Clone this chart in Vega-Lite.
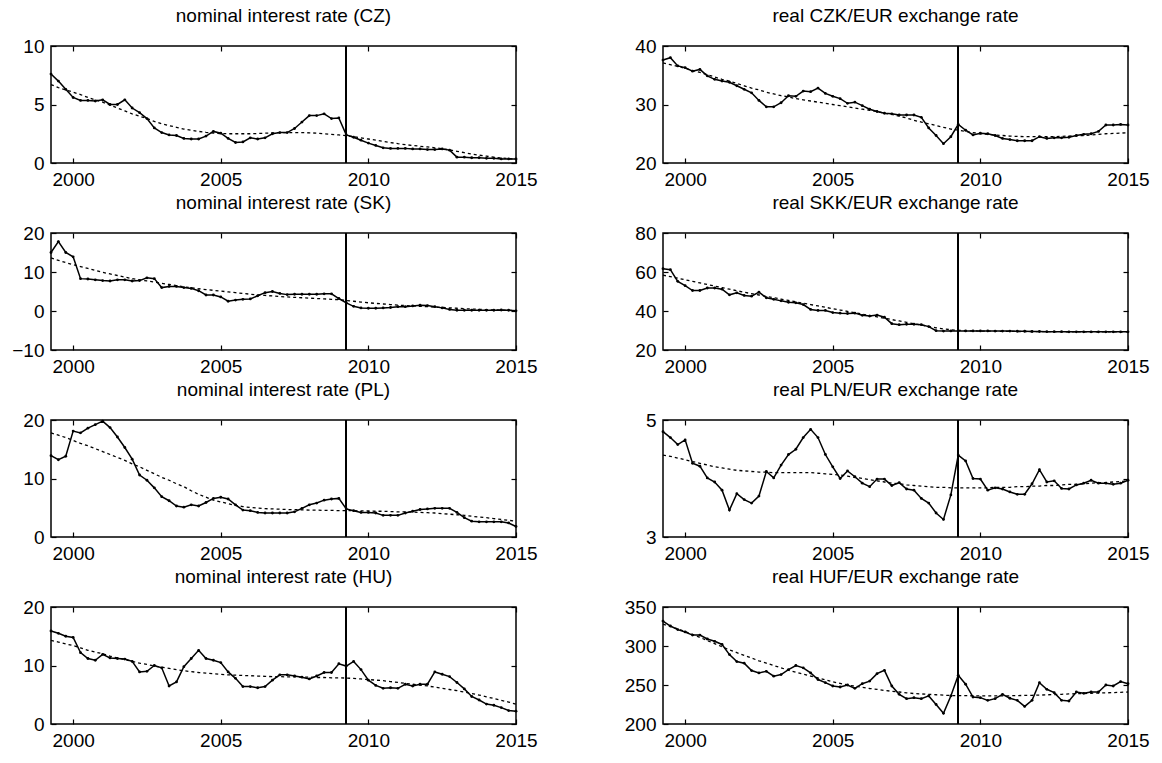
{
  "$schema": "https://vega.github.io/schema/vega-lite/v6.json",
  "background": "white",
  "padding": {"left": 11, "top": 6, "right": 5, "bottom": 5},
  "columns": 2,
  "spacing": {"row": 70, "column": 147},
  "bounds": "flush",
  "data": {"values": [
    {"t":1999.25,"cz":7.6,"czT":6.7,"sk":15.0,"skT":13.6,"pl":13.9,"plT":17.8,"hu":15.9,"huT":14.3,"czk":37.6,"czkT":37.1,"skk":61.7,"skkT":58.4,"pln":4.80,"plnT":4.40,"huf":332,"hufT":328},
    {"t":1999.5,"cz":7.0,"czT":6.45,"sk":17.8,"skT":13.0,"pl":13.2,"plT":17.4,"hu":15.5,"huT":14.0,"czk":38.0,"czkT":36.8,"skk":61.2,"skkT":57.6,"pln":4.70,"plnT":4.38,"huf":325.6,"hufT":325},
    {"t":1999.75,"cz":6.3,"czT":6.25,"sk":15.0,"skT":12.4,"pl":13.8,"plT":17.0,"hu":15.0,"huT":13.7,"czk":36.6,"czkT":36.5,"skk":55.2,"skkT":56.8,"pln":4.58,"plnT":4.35,"huf":321,"hufT":322},
    {"t":2000,"cz":5.6,"czT":6.05,"sk":13.9,"skT":11.9,"pl":18.1,"plT":16.5,"hu":14.8,"huT":13.4,"czk":36.3,"czkT":36.2,"skk":53.0,"skkT":56.0,"pln":4.66,"plnT":4.32,"huf":318,"hufT":318.5},
    {"t":2000.25,"cz":5.35,"czT":5.85,"sk":8.3,"skT":11.4,"pl":17.8,"plT":16.0,"hu":12.2,"huT":13.0,"czk":35.7,"czkT":35.8,"skk":50.5,"skkT":55.2,"pln":4.26,"plnT":4.29,"huf":314,"hufT":315},
    {"t":2000.5,"cz":5.35,"czT":5.6,"sk":8.2,"skT":10.9,"pl":18.6,"plT":15.6,"hu":11.2,"huT":12.6,"czk":36.0,"czkT":35.5,"skk":50.5,"skkT":54.4,"pln":4.21,"plnT":4.26,"huf":314,"hufT":311},
    {"t":2000.75,"cz":5.3,"czT":5.4,"sk":8.0,"skT":10.4,"pl":19.2,"plT":15.1,"hu":10.9,"huT":12.3,"czk":34.9,"czkT":35.1,"skk":51.8,"skkT":53.6,"pln":4.01,"plnT":4.23,"huf":309,"hufT":307},
    {"t":2001,"cz":5.4,"czT":5.2,"sk":7.8,"skT":9.9,"pl":19.8,"plT":14.6,"hu":11.9,"huT":12.0,"czk":34.3,"czkT":34.7,"skk":51.8,"skkT":52.8,"pln":3.94,"plnT":4.20,"huf":306,"hufT":303},
    {"t":2001.25,"cz":5.0,"czT":4.95,"sk":7.7,"skT":9.5,"pl":18.7,"plT":14.1,"hu":11.3,"huT":11.6,"czk":34.0,"czkT":34.3,"skk":51.2,"skkT":52.0,"pln":3.80,"plnT":4.18,"huf":302,"hufT":299},
    {"t":2001.5,"cz":5.0,"czT":4.7,"sk":8.0,"skT":9.1,"pl":17.1,"plT":13.6,"hu":11.2,"huT":11.3,"czk":33.8,"czkT":34.0,"skk":48.3,"skkT":51.2,"pln":3.46,"plnT":4.16,"huf":289,"hufT":295},
    {"t":2001.75,"cz":5.4,"czT":4.45,"sk":8.0,"skT":8.7,"pl":15.3,"plT":13.1,"hu":11.1,"huT":11.0,"czk":33.2,"czkT":33.6,"skk":49.3,"skkT":50.4,"pln":3.74,"plnT":4.14,"huf":280,"hufT":291.5},
    {"t":2002,"cz":4.7,"czT":4.2,"sk":7.7,"skT":8.3,"pl":13.3,"plT":12.5,"hu":10.7,"huT":10.7,"czk":32.6,"czkT":33.2,"skk":48.0,"skkT":49.6,"pln":3.64,"plnT":4.13,"huf":278,"hufT":288},
    {"t":2002.25,"cz":4.3,"czT":4.0,"sk":7.8,"skT":8.0,"pl":10.6,"plT":12.0,"hu":8.9,"huT":10.4,"czk":32.0,"czkT":32.8,"skk":47.6,"skkT":48.9,"pln":3.58,"plnT":4.12,"huf":268.5,"hufT":284.5},
    {"t":2002.5,"cz":3.8,"czT":3.8,"sk":8.5,"skT":7.7,"pl":9.7,"plT":11.4,"hu":9.0,"huT":10.2,"czk":30.7,"czkT":32.5,"skk":49.7,"skkT":48.2,"pln":3.70,"plnT":4.11,"huf":265.5,"hufT":281},
    {"t":2002.75,"cz":3.0,"czT":3.55,"sk":8.3,"skT":7.4,"pl":8.4,"plT":10.8,"hu":10.0,"huT":9.9,"czk":29.6,"czkT":32.1,"skk":46.8,"skkT":47.5,"pln":4.12,"plnT":4.11,"huf":267.5,"hufT":278},
    {"t":2003,"cz":2.6,"czT":3.35,"sk":6.0,"skT":7.1,"pl":6.9,"plT":10.2,"hu":9.6,"huT":9.7,"czk":29.6,"czkT":31.8,"skk":46.0,"skkT":46.8,"pln":4.01,"plnT":4.10,"huf":261.3,"hufT":275},
    {"t":2003.25,"cz":2.4,"czT":3.2,"sk":6.3,"skT":6.8,"pl":6.2,"plT":9.7,"hu":6.5,"huT":9.5,"czk":30.3,"czkT":31.5,"skk":45.2,"skkT":46.1,"pln":4.23,"plnT":4.10,"huf":263.4,"hufT":272},
    {"t":2003.5,"cz":2.35,"czT":3.05,"sk":6.3,"skT":6.5,"pl":5.3,"plT":9.1,"hu":7.2,"huT":9.3,"czk":31.5,"czkT":31.3,"skk":44.5,"skkT":45.4,"pln":4.41,"plnT":4.10,"huf":269.8,"hufT":269},
    {"t":2003.75,"cz":2.1,"czT":2.9,"sk":6.0,"skT":6.2,"pl":5.1,"plT":8.6,"hu":9.8,"huT":9.1,"czk":31.4,"czkT":31.0,"skk":44.2,"skkT":44.7,"pln":4.50,"plnT":4.10,"huf":275,"hufT":266.5},
    {"t":2004,"cz":2.05,"czT":2.8,"sk":5.8,"skT":5.95,"pl":5.5,"plT":7.9,"hu":11.2,"huT":8.95,"czk":32.3,"czkT":30.8,"skk":43.3,"skkT":44.0,"pln":4.70,"plnT":4.10,"huf":272,"hufT":264},
    {"t":2004.25,"cz":2.05,"czT":2.7,"sk":5.2,"skT":5.7,"pl":5.3,"plT":7.3,"hu":12.6,"huT":8.8,"czk":32.2,"czkT":30.6,"skk":40.8,"skkT":43.3,"pln":4.84,"plnT":4.10,"huf":265.5,"hufT":261.5},
    {"t":2004.5,"cz":2.3,"czT":2.62,"sk":4.1,"skT":5.5,"pl":5.9,"plT":6.8,"hu":11.2,"huT":8.7,"czk":32.8,"czkT":30.4,"skk":40.3,"skkT":42.6,"pln":4.70,"plnT":4.09,"huf":257,"hufT":259},
    {"t":2004.75,"cz":2.7,"czT":2.56,"sk":4.1,"skT":5.3,"pl":6.6,"plT":6.3,"hu":10.9,"huT":8.6,"czk":31.9,"czkT":30.2,"skk":40.3,"skkT":41.9,"pln":4.41,"plnT":4.08,"huf":253,"hufT":256.5},
    {"t":2005,"cz":2.55,"czT":2.52,"sk":3.6,"skT":5.1,"pl":6.8,"plT":6.0,"hu":10.5,"huT":8.5,"czk":31.4,"czkT":30.0,"skk":39.2,"skkT":41.2,"pln":4.20,"plnT":4.07,"huf":248.7,"hufT":254},
    {"t":2005.25,"cz":2.1,"czT":2.5,"sk":2.5,"skT":4.9,"pl":6.5,"plT":5.7,"hu":8.9,"huT":8.4,"czk":31.0,"czkT":29.8,"skk":38.9,"skkT":40.5,"pln":4.00,"plnT":4.06,"huf":247.4,"hufT":252},
    {"t":2005.5,"cz":1.75,"czT":2.5,"sk":2.8,"skT":4.7,"pl":5.5,"plT":5.4,"hu":7.8,"huT":8.35,"czk":30.2,"czkT":29.6,"skk":38.7,"skkT":39.8,"pln":4.13,"plnT":4.04,"huf":250,"hufT":250},
    {"t":2005.75,"cz":1.8,"czT":2.5,"sk":3.0,"skT":4.5,"pl":4.6,"plT":5.2,"hu":6.4,"huT":8.3,"czk":30.4,"czkT":29.4,"skk":38.9,"skkT":39.1,"pln":4.03,"plnT":4.02,"huf":245.7,"hufT":248.5},
    {"t":2006,"cz":2.15,"czT":2.5,"sk":3.1,"skT":4.3,"pl":4.5,"plT":5.05,"hu":6.4,"huT":8.25,"czk":29.8,"czkT":29.2,"skk":37.8,"skkT":38.4,"pln":3.92,"plnT":4.00,"huf":251.7,"hufT":247},
    {"t":2006.25,"cz":2.05,"czT":2.52,"sk":3.9,"skT":4.15,"pl":4.2,"plT":4.95,"hu":6.2,"huT":8.2,"czk":29.2,"czkT":29.0,"skk":37.4,"skkT":37.7,"pln":3.86,"plnT":3.98,"huf":255,"hufT":245.5},
    {"t":2006.5,"cz":2.15,"czT":2.55,"sk":4.7,"skT":4.0,"pl":4.1,"plT":4.85,"hu":6.4,"huT":8.15,"czk":28.8,"czkT":28.8,"skk":37.9,"skkT":37.0,"pln":3.99,"plnT":3.96,"huf":264.5,"hufT":244.5},
    {"t":2006.75,"cz":2.5,"czT":2.57,"sk":5.0,"skT":3.85,"pl":4.1,"plT":4.8,"hu":7.5,"huT":8.1,"czk":28.5,"czkT":28.5,"skk":36.8,"skkT":36.3,"pln":3.99,"plnT":3.94,"huf":268.8,"hufT":243},
    {"t":2007,"cz":2.6,"czT":2.6,"sk":4.5,"skT":3.7,"pl":4.1,"plT":4.75,"hu":8.4,"huT":8.1,"czk":28.4,"czkT":28.3,"skk":33.5,"skkT":35.6,"pln":3.88,"plnT":3.92,"huf":248.7,"hufT":242},
    {"t":2007.25,"cz":2.6,"czT":2.6,"sk":4.2,"skT":3.6,"pl":4.1,"plT":4.7,"hu":8.4,"huT":8.05,"czk":28.2,"czkT":28.0,"skk":33.0,"skkT":34.9,"pln":3.93,"plnT":3.91,"huf":238,"hufT":241},
    {"t":2007.5,"cz":2.95,"czT":2.6,"sk":4.3,"skT":3.5,"pl":4.3,"plT":4.68,"hu":8.2,"huT":8.05,"czk":28.2,"czkT":27.7,"skk":33.2,"skkT":34.2,"pln":3.82,"plnT":3.89,"huf":232.5,"hufT":240},
    {"t":2007.75,"cz":3.5,"czT":2.6,"sk":4.3,"skT":3.4,"pl":4.9,"plT":4.65,"hu":8.0,"huT":8.0,"czk":28.2,"czkT":27.3,"skk":33.2,"skkT":33.5,"pln":3.80,"plnT":3.88,"huf":233.8,"hufT":239},
    {"t":2008,"cz":4.05,"czT":2.58,"sk":4.3,"skT":3.3,"pl":5.5,"plT":4.6,"hu":7.7,"huT":8.0,"czk":27.8,"czkT":27.0,"skk":33.0,"skkT":32.8,"pln":3.66,"plnT":3.87,"huf":232.5,"hufT":238.5},
    {"t":2008.25,"cz":4.05,"czT":2.55,"sk":4.3,"skT":3.2,"pl":5.8,"plT":4.6,"hu":8.2,"huT":7.95,"czk":26.0,"czkT":26.7,"skk":32.0,"skkT":32.1,"pln":3.58,"plnT":3.86,"huf":236,"hufT":238},
    {"t":2008.5,"cz":4.2,"czT":2.5,"sk":4.4,"skT":3.1,"pl":6.3,"plT":4.55,"hu":8.8,"huT":7.95,"czk":24.7,"czkT":26.4,"skk":29.9,"skkT":31.4,"pln":3.41,"plnT":3.85,"huf":225,"hufT":237.5},
    {"t":2008.75,"cz":3.8,"czT":2.45,"sk":4.4,"skT":3.0,"pl":6.5,"plT":4.55,"hu":8.8,"huT":7.9,"czk":23.3,"czkT":26.1,"skk":29.7,"skkT":30.8,"pln":3.30,"plnT":3.85,"huf":213.7,"hufT":237},
    {"t":2009,"cz":3.85,"czT":2.4,"sk":3.2,"skT":2.9,"pl":6.6,"plT":4.5,"hu":10.3,"huT":7.9,"czk":24.5,"czkT":25.8,"skk":29.8,"skkT":30.4,"pln":3.72,"plnT":3.84,"huf":236,"hufT":236.5},
    {"t":2009.25,"cz":2.4,"czT":2.33,"sk":2.1,"skT":2.7,"pl":4.8,"plT":4.5,"hu":9.9,"huT":7.85,"czk":26.6,"czkT":25.6,"skk":29.8,"skkT":30.1,"pln":4.40,"plnT":3.84,"huf":262.4,"hufT":236.5},
    {"t":2009.5,"cz":2.2,"czT":2.25,"sk":1.2,"skT":2.5,"pl":4.5,"plT":4.5,"hu":10.7,"huT":7.8,"czk":25.6,"czkT":25.4,"skk":29.8,"skkT":29.9,"pln":4.30,"plnT":3.84,"huf":251,"hufT":236.3},
    {"t":2009.75,"cz":1.95,"czT":2.15,"sk":0.8,"skT":2.3,"pl":4.2,"plT":4.45,"hu":9.3,"huT":7.7,"czk":24.8,"czkT":25.2,"skk":29.8,"skkT":29.8,"pln":4.00,"plnT":3.84,"huf":234.6,"hufT":236.2},
    {"t":2010,"cz":1.7,"czT":2.05,"sk":0.7,"skT":2.1,"pl":4.2,"plT":4.45,"hu":7.5,"huT":7.6,"czk":25.1,"czkT":25.0,"skk":29.8,"skkT":29.7,"pln":3.99,"plnT":3.84,"huf":233.8,"hufT":236.1},
    {"t":2010.25,"cz":1.5,"czT":1.95,"sk":0.7,"skT":1.95,"pl":4.1,"plT":4.4,"hu":6.6,"huT":7.5,"czk":25.0,"czkT":24.9,"skk":29.8,"skkT":29.7,"pln":3.80,"plnT":3.84,"huf":230.3,"hufT":236},
    {"t":2010.5,"cz":1.3,"czT":1.85,"sk":0.8,"skT":1.8,"pl":3.7,"plT":4.4,"hu":6.1,"huT":7.4,"czk":24.7,"czkT":24.8,"skk":29.7,"skkT":29.6,"pln":3.84,"plnT":3.85,"huf":232.5,"hufT":236},
    {"t":2010.75,"cz":1.25,"czT":1.75,"sk":0.9,"skT":1.65,"pl":3.7,"plT":4.35,"hu":6.2,"huT":7.25,"czk":24.2,"czkT":24.7,"skk":29.7,"skkT":29.6,"pln":3.82,"plnT":3.85,"huf":238,"hufT":236},
    {"t":2011,"cz":1.25,"czT":1.65,"sk":1.1,"skT":1.5,"pl":3.7,"plT":4.3,"hu":6.1,"huT":7.1,"czk":24.0,"czkT":24.6,"skk":29.7,"skkT":29.6,"pln":3.77,"plnT":3.85,"huf":233,"hufT":236.2},
    {"t":2011.25,"cz":1.25,"czT":1.57,"sk":1.1,"skT":1.4,"pl":4.1,"plT":4.3,"hu":6.8,"huT":6.95,"czk":23.8,"czkT":24.55,"skk":29.6,"skkT":29.5,"pln":3.73,"plnT":3.86,"huf":230.3,"hufT":236.4},
    {"t":2011.5,"cz":1.2,"czT":1.5,"sk":1.3,"skT":1.3,"pl":4.4,"plT":4.25,"hu":6.5,"huT":6.8,"czk":23.8,"czkT":24.5,"skk":29.6,"skkT":29.5,"pln":3.73,"plnT":3.86,"huf":222.5,"hufT":236.6},
    {"t":2011.75,"cz":1.2,"czT":1.43,"sk":1.5,"skT":1.2,"pl":4.7,"plT":4.2,"hu":6.8,"huT":6.65,"czk":23.8,"czkT":24.5,"skk":29.5,"skkT":29.5,"pln":3.91,"plnT":3.87,"huf":230.3,"hufT":236.8},
    {"t":2012,"cz":1.15,"czT":1.37,"sk":1.4,"skT":1.1,"pl":4.8,"plT":4.15,"hu":6.8,"huT":6.5,"czk":24.5,"czkT":24.5,"skk":29.5,"skkT":29.4,"pln":4.15,"plnT":3.87,"huf":253,"hufT":237},
    {"t":2012.25,"cz":1.15,"czT":1.3,"sk":1.1,"skT":1.0,"pl":4.9,"plT":4.1,"hu":8.9,"huT":6.3,"czk":24.2,"czkT":24.5,"skk":29.4,"skkT":29.4,"pln":3.94,"plnT":3.88,"huf":244.5,"hufT":237.4},
    {"t":2012.5,"cz":1.2,"czT":1.22,"sk":0.8,"skT":0.9,"pl":4.9,"plT":4.0,"hu":8.5,"huT":6.1,"czk":24.3,"czkT":24.5,"skk":29.4,"skkT":29.4,"pln":3.96,"plnT":3.88,"huf":240.2,"hufT":237.8},
    {"t":2012.75,"cz":1.1,"czT":1.12,"sk":0.4,"skT":0.8,"pl":4.9,"plT":3.9,"hu":8.1,"huT":5.9,"czk":24.3,"czkT":24.55,"skk":29.4,"skkT":29.4,"pln":3.83,"plnT":3.89,"huf":230.3,"hufT":238.1},
    {"t":2013,"cz":0.5,"czT":1.0,"sk":0.2,"skT":0.7,"pl":4.2,"plT":3.8,"hu":7.1,"huT":5.7,"czk":24.4,"czkT":24.6,"skk":29.3,"skkT":29.3,"pln":3.82,"plnT":3.90,"huf":229.5,"hufT":238.5},
    {"t":2013.25,"cz":0.5,"czT":0.88,"sk":0.2,"skT":0.6,"pl":3.3,"plT":3.7,"hu":6.0,"huT":5.45,"czk":24.7,"czkT":24.65,"skk":29.3,"skkT":29.3,"pln":3.89,"plnT":3.90,"huf":241,"hufT":238.8},
    {"t":2013.5,"cz":0.45,"czT":0.77,"sk":0.2,"skT":0.5,"pl":2.7,"plT":3.55,"hu":4.7,"huT":5.2,"czk":24.9,"czkT":24.7,"skk":29.3,"skkT":29.3,"pln":3.92,"plnT":3.91,"huf":239.3,"hufT":239.1},
    {"t":2013.75,"cz":0.45,"czT":0.67,"sk":0.2,"skT":0.42,"pl":2.6,"plT":3.4,"hu":4.1,"huT":4.95,"czk":25.0,"czkT":24.8,"skk":29.3,"skkT":29.3,"pln":3.97,"plnT":3.92,"huf":241,"hufT":239.4},
    {"t":2014,"cz":0.4,"czT":0.58,"sk":0.2,"skT":0.35,"pl":2.6,"plT":3.3,"hu":3.4,"huT":4.65,"czk":25.4,"czkT":24.9,"skk":29.3,"skkT":29.3,"pln":3.92,"plnT":3.93,"huf":241,"hufT":239.7},
    {"t":2014.25,"cz":0.4,"czT":0.5,"sk":0.2,"skT":0.28,"pl":2.6,"plT":3.15,"hu":3.2,"huT":4.35,"czk":26.5,"czkT":25.0,"skk":29.3,"skkT":29.3,"pln":3.92,"plnT":3.93,"huf":250,"hufT":240},
    {"t":2014.5,"cz":0.35,"czT":0.43,"sk":0.25,"skT":0.22,"pl":2.6,"plT":3.0,"hu":2.8,"huT":4.05,"czk":26.5,"czkT":25.05,"skk":29.3,"skkT":29.3,"pln":3.90,"plnT":3.94,"huf":248.7,"hufT":240.3},
    {"t":2014.75,"cz":0.35,"czT":0.37,"sk":0.2,"skT":0.16,"pl":2.4,"plT":2.85,"hu":2.3,"huT":3.75,"czk":26.6,"czkT":25.1,"skk":29.3,"skkT":29.3,"pln":3.92,"plnT":3.95,"huf":254.3,"hufT":240.6},
    {"t":2015,"cz":0.35,"czT":0.32,"sk":0.05,"skT":0.1,"pl":1.8,"plT":2.7,"hu":2.2,"huT":3.4,"czk":26.5,"czkT":25.2,"skk":29.3,"skkT":29.3,"pln":3.97,"plnT":3.96,"huf":251.7,"hufT":241}
  ]},
  "concat": [
    {"title": "nominal interest rate (CZ)", "width": 465, "height": 117,
     "layer": [
      {"mark": {"type": "line", "color": "black", "strokeWidth": 1.5, "point": {"filled": true, "size": 8, "color": "black"}},
       "encoding": {"x": {"field": "t", "type": "quantitative", "scale": {"domain": [1999.25, 2015], "nice": false, "zero": false}, "axis": {"orient": "bottom", "values": [2000, 2005, 2010, 2015], "format": "d", "title": null}},
                    "y": {"field": "cz", "type": "quantitative", "scale": {"domain": [0, 10], "nice": false, "zero": false}, "axis": {"orient": "left", "values": [0, 5, 10], "format": "d", "title": null}}}},
      {"mark": {"type": "line", "color": "black", "strokeWidth": 1.3, "strokeDash": [3, 3]},
       "encoding": {"x": {"field": "t", "type": "quantitative", "scale": {"domain": [1999.25, 2015], "nice": false, "zero": false}, "axis": {"orient": "top", "values": [2000, 2005, 2010, 2015], "labels": false, "title": null}},
                    "y": {"field": "czT", "type": "quantitative", "scale": {"domain": [0, 10], "nice": false, "zero": false}, "axis": {"orient": "right", "values": [0, 5, 10], "labels": false, "title": null}}}},
      {"mark": {"type": "rule", "color": "black", "strokeWidth": 1}, "encoding": {"x": {"datum": 2009.25, "type": "quantitative", "axis": null}}}
     ],
     "resolve": {"axis": {"x": "independent", "y": "independent"}}},
    {"title": "real CZK/EUR exchange rate", "width": 465, "height": 117,
     "layer": [
      {"mark": {"type": "line", "color": "black", "strokeWidth": 1.5, "point": {"filled": true, "size": 8, "color": "black"}},
       "encoding": {"x": {"field": "t", "type": "quantitative", "scale": {"domain": [1999.25, 2015], "nice": false, "zero": false}, "axis": {"orient": "bottom", "values": [2000, 2005, 2010, 2015], "format": "d", "title": null}},
                    "y": {"field": "czk", "type": "quantitative", "scale": {"domain": [20, 40], "nice": false, "zero": false}, "axis": {"orient": "left", "values": [20, 30, 40], "format": "d", "title": null}}}},
      {"mark": {"type": "line", "color": "black", "strokeWidth": 1.3, "strokeDash": [3, 3]},
       "encoding": {"x": {"field": "t", "type": "quantitative", "scale": {"domain": [1999.25, 2015], "nice": false, "zero": false}, "axis": {"orient": "top", "values": [2000, 2005, 2010, 2015], "labels": false, "title": null}},
                    "y": {"field": "czkT", "type": "quantitative", "scale": {"domain": [20, 40], "nice": false, "zero": false}, "axis": {"orient": "right", "values": [20, 30, 40], "labels": false, "title": null}}}},
      {"mark": {"type": "rule", "color": "black", "strokeWidth": 1}, "encoding": {"x": {"datum": 2009.25, "type": "quantitative", "axis": null}}}
     ],
     "resolve": {"axis": {"x": "independent", "y": "independent"}}},
    {"title": "nominal interest rate (SK)", "width": 465, "height": 117,
     "layer": [
      {"mark": {"type": "line", "color": "black", "strokeWidth": 1.5, "point": {"filled": true, "size": 8, "color": "black"}},
       "encoding": {"x": {"field": "t", "type": "quantitative", "scale": {"domain": [1999.25, 2015], "nice": false, "zero": false}, "axis": {"orient": "bottom", "values": [2000, 2005, 2010, 2015], "format": "d", "title": null}},
                    "y": {"field": "sk", "type": "quantitative", "scale": {"domain": [-10, 20], "nice": false, "zero": false}, "axis": {"orient": "left", "values": [-10, 0, 10, 20], "format": "d", "title": null}}}},
      {"mark": {"type": "line", "color": "black", "strokeWidth": 1.3, "strokeDash": [3, 3]},
       "encoding": {"x": {"field": "t", "type": "quantitative", "scale": {"domain": [1999.25, 2015], "nice": false, "zero": false}, "axis": {"orient": "top", "values": [2000, 2005, 2010, 2015], "labels": false, "title": null}},
                    "y": {"field": "skT", "type": "quantitative", "scale": {"domain": [-10, 20], "nice": false, "zero": false}, "axis": {"orient": "right", "values": [-10, 0, 10, 20], "labels": false, "title": null}}}},
      {"mark": {"type": "rule", "color": "black", "strokeWidth": 1}, "encoding": {"x": {"datum": 2009.25, "type": "quantitative", "axis": null}}}
     ],
     "resolve": {"axis": {"x": "independent", "y": "independent"}}},
    {"title": "real SKK/EUR exchange rate", "width": 465, "height": 117,
     "layer": [
      {"mark": {"type": "line", "color": "black", "strokeWidth": 1.5, "point": {"filled": true, "size": 8, "color": "black"}},
       "encoding": {"x": {"field": "t", "type": "quantitative", "scale": {"domain": [1999.25, 2015], "nice": false, "zero": false}, "axis": {"orient": "bottom", "values": [2000, 2005, 2010, 2015], "format": "d", "title": null}},
                    "y": {"field": "skk", "type": "quantitative", "scale": {"domain": [20, 80], "nice": false, "zero": false}, "axis": {"orient": "left", "values": [20, 40, 60, 80], "format": "d", "title": null}}}},
      {"mark": {"type": "line", "color": "black", "strokeWidth": 1.3, "strokeDash": [3, 3]},
       "encoding": {"x": {"field": "t", "type": "quantitative", "scale": {"domain": [1999.25, 2015], "nice": false, "zero": false}, "axis": {"orient": "top", "values": [2000, 2005, 2010, 2015], "labels": false, "title": null}},
                    "y": {"field": "skkT", "type": "quantitative", "scale": {"domain": [20, 80], "nice": false, "zero": false}, "axis": {"orient": "right", "values": [20, 40, 60, 80], "labels": false, "title": null}}}},
      {"mark": {"type": "rule", "color": "black", "strokeWidth": 1}, "encoding": {"x": {"datum": 2009.25, "type": "quantitative", "axis": null}}}
     ],
     "resolve": {"axis": {"x": "independent", "y": "independent"}}},
    {"title": "nominal interest rate (PL)", "width": 465, "height": 117,
     "layer": [
      {"mark": {"type": "line", "color": "black", "strokeWidth": 1.5, "point": {"filled": true, "size": 8, "color": "black"}},
       "encoding": {"x": {"field": "t", "type": "quantitative", "scale": {"domain": [1999.25, 2015], "nice": false, "zero": false}, "axis": {"orient": "bottom", "values": [2000, 2005, 2010, 2015], "format": "d", "title": null}},
                    "y": {"field": "pl", "type": "quantitative", "scale": {"domain": [0, 20], "nice": false, "zero": false}, "axis": {"orient": "left", "values": [0, 10, 20], "format": "d", "title": null}}}},
      {"mark": {"type": "line", "color": "black", "strokeWidth": 1.3, "strokeDash": [3, 3]},
       "encoding": {"x": {"field": "t", "type": "quantitative", "scale": {"domain": [1999.25, 2015], "nice": false, "zero": false}, "axis": {"orient": "top", "values": [2000, 2005, 2010, 2015], "labels": false, "title": null}},
                    "y": {"field": "plT", "type": "quantitative", "scale": {"domain": [0, 20], "nice": false, "zero": false}, "axis": {"orient": "right", "values": [0, 10, 20], "labels": false, "title": null}}}},
      {"mark": {"type": "rule", "color": "black", "strokeWidth": 1}, "encoding": {"x": {"datum": 2009.25, "type": "quantitative", "axis": null}}}
     ],
     "resolve": {"axis": {"x": "independent", "y": "independent"}}},
    {"title": "real PLN/EUR exchange rate", "width": 465, "height": 117,
     "layer": [
      {"mark": {"type": "line", "color": "black", "strokeWidth": 1.5, "point": {"filled": true, "size": 8, "color": "black"}},
       "encoding": {"x": {"field": "t", "type": "quantitative", "scale": {"domain": [1999.25, 2015], "nice": false, "zero": false}, "axis": {"orient": "bottom", "values": [2000, 2005, 2010, 2015], "format": "d", "title": null}},
                    "y": {"field": "pln", "type": "quantitative", "scale": {"domain": [3, 5], "nice": false, "zero": false}, "axis": {"orient": "left", "values": [3, 4, 5], "format": "d", "title": null}}}},
      {"mark": {"type": "line", "color": "black", "strokeWidth": 1.3, "strokeDash": [3, 3]},
       "encoding": {"x": {"field": "t", "type": "quantitative", "scale": {"domain": [1999.25, 2015], "nice": false, "zero": false}, "axis": {"orient": "top", "values": [2000, 2005, 2010, 2015], "labels": false, "title": null}},
                    "y": {"field": "plnT", "type": "quantitative", "scale": {"domain": [3, 5], "nice": false, "zero": false}, "axis": {"orient": "right", "values": [3, 4, 5], "labels": false, "title": null}}}},
      {"mark": {"type": "rule", "color": "black", "strokeWidth": 1}, "encoding": {"x": {"datum": 2009.25, "type": "quantitative", "axis": null}}}
     ],
     "resolve": {"axis": {"x": "independent", "y": "independent"}}},
    {"title": "nominal interest rate (HU)", "width": 465, "height": 117,
     "layer": [
      {"mark": {"type": "line", "color": "black", "strokeWidth": 1.5, "point": {"filled": true, "size": 8, "color": "black"}},
       "encoding": {"x": {"field": "t", "type": "quantitative", "scale": {"domain": [1999.25, 2015], "nice": false, "zero": false}, "axis": {"orient": "bottom", "values": [2000, 2005, 2010, 2015], "format": "d", "title": null}},
                    "y": {"field": "hu", "type": "quantitative", "scale": {"domain": [0, 20], "nice": false, "zero": false}, "axis": {"orient": "left", "values": [0, 10, 20], "format": "d", "title": null}}}},
      {"mark": {"type": "line", "color": "black", "strokeWidth": 1.3, "strokeDash": [3, 3]},
       "encoding": {"x": {"field": "t", "type": "quantitative", "scale": {"domain": [1999.25, 2015], "nice": false, "zero": false}, "axis": {"orient": "top", "values": [2000, 2005, 2010, 2015], "labels": false, "title": null}},
                    "y": {"field": "huT", "type": "quantitative", "scale": {"domain": [0, 20], "nice": false, "zero": false}, "axis": {"orient": "right", "values": [0, 10, 20], "labels": false, "title": null}}}},
      {"mark": {"type": "rule", "color": "black", "strokeWidth": 1}, "encoding": {"x": {"datum": 2009.25, "type": "quantitative", "axis": null}}}
     ],
     "resolve": {"axis": {"x": "independent", "y": "independent"}}},
    {"title": "real HUF/EUR exchange rate", "width": 465, "height": 117,
     "layer": [
      {"mark": {"type": "line", "color": "black", "strokeWidth": 1.5, "point": {"filled": true, "size": 8, "color": "black"}},
       "encoding": {"x": {"field": "t", "type": "quantitative", "scale": {"domain": [1999.25, 2015], "nice": false, "zero": false}, "axis": {"orient": "bottom", "values": [2000, 2005, 2010, 2015], "format": "d", "title": null}},
                    "y": {"field": "huf", "type": "quantitative", "scale": {"domain": [200, 350], "nice": false, "zero": false}, "axis": {"orient": "left", "values": [200, 250, 300, 350], "format": "d", "title": null}}}},
      {"mark": {"type": "line", "color": "black", "strokeWidth": 1.3, "strokeDash": [3, 3]},
       "encoding": {"x": {"field": "t", "type": "quantitative", "scale": {"domain": [1999.25, 2015], "nice": false, "zero": false}, "axis": {"orient": "top", "values": [2000, 2005, 2010, 2015], "labels": false, "title": null}},
                    "y": {"field": "hufT", "type": "quantitative", "scale": {"domain": [200, 350], "nice": false, "zero": false}, "axis": {"orient": "right", "values": [200, 250, 300, 350], "labels": false, "title": null}}}},
      {"mark": {"type": "rule", "color": "black", "strokeWidth": 1}, "encoding": {"x": {"datum": 2009.25, "type": "quantitative", "axis": null}}}
     ],
     "resolve": {"axis": {"x": "independent", "y": "independent"}}}
  ],
  "config": {
    "font": "Liberation Sans",
    "view": {"stroke": "black", "strokeWidth": 1.5},
    "axis": {"domain": false, "grid": false, "ticks": true, "tickSize": -5, "tickColor": "black", "tickWidth": 1.2, "labelFontSize": 19, "labelColor": "black", "labelFont": "Liberation Sans", "labelFlush": false, "labelOverlap": false},
    "axisX": {"labelPadding": 12},
    "axisY": {"labelPadding": 12},
    "title": {"fontSize": 19, "font": "Liberation Sans", "fontWeight": "normal", "color": "black", "offset": 11, "frame": "group", "anchor": "middle"}
  }
}
